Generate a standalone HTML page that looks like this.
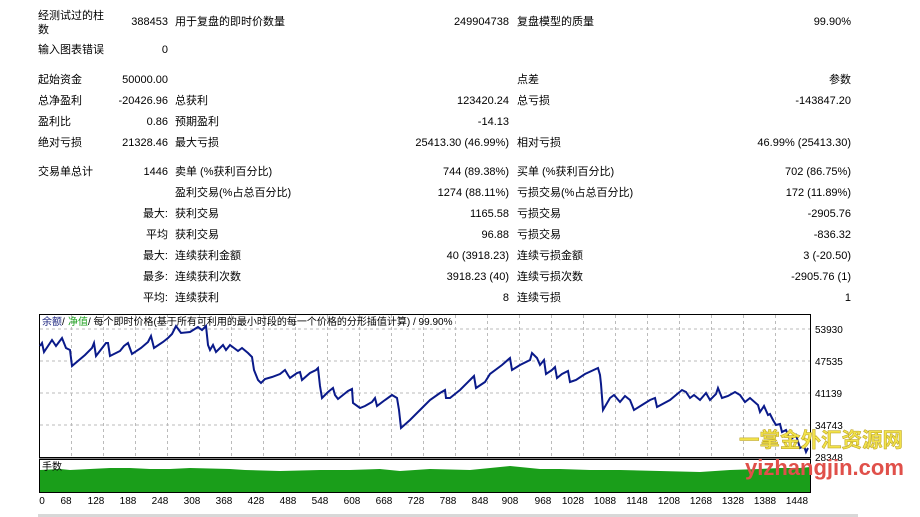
<!DOCTYPE html>
<html><head><meta charset="utf-8"><style>
body{margin:0;width:920px;height:517px;background:#fff;position:relative;overflow:hidden;font-family:"Liberation Sans","Noto Sans CJK SC",sans-serif;font-size:11px;color:#000}
.t{position:absolute;white-space:nowrap;line-height:13px}
.r{text-align:right}
</style></head><body>
<div class="t" style="left:38px;top:9px;line-height:14px">经测试过的柱<br>数</div>
<div class="t r" style="right:752px;top:16px">388453</div>
<div class="t" style="left:175px;top:16px">用于复盘的即时价数量</div>
<div class="t r" style="right:411px;top:16px">249904738</div>
<div class="t" style="left:517px;top:16px">复盘模型的质量</div>
<div class="t r" style="right:69px;top:16px">99.90%</div>

<div class="t" style="left:38px;top:44px">输入图表错误</div>
<div class="t r" style="right:752px;top:44px">0</div>

<div class="t" style="left:38px;top:74px">起始资金</div>
<div class="t r" style="right:752px;top:74px">50000.00</div>
<div class="t" style="left:517px;top:74px">点差</div>
<div class="t r" style="right:69px;top:74px">参数</div>

<div class="t" style="left:38px;top:95px">总净盈利</div>
<div class="t r" style="right:752px;top:95px">-20426.96</div>
<div class="t" style="left:175px;top:95px">总获利</div>
<div class="t r" style="right:411px;top:95px">123420.24</div>
<div class="t" style="left:517px;top:95px">总亏损</div>
<div class="t r" style="right:69px;top:95px">-143847.20</div>

<div class="t" style="left:38px;top:116px">盈利比</div>
<div class="t r" style="right:752px;top:116px">0.86</div>
<div class="t" style="left:175px;top:116px">预期盈利</div>
<div class="t r" style="right:411px;top:116px">-14.13</div>

<div class="t" style="left:38px;top:137px">绝对亏损</div>
<div class="t r" style="right:752px;top:137px">21328.46</div>
<div class="t" style="left:175px;top:137px">最大亏损</div>
<div class="t r" style="right:411px;top:137px">25413.30 (46.99%)</div>
<div class="t" style="left:517px;top:137px">相对亏损</div>
<div class="t r" style="right:69px;top:137px">46.99% (25413.30)</div>

<div class="t" style="left:38px;top:166px">交易单总计</div>
<div class="t r" style="right:752px;top:166px">1446</div>
<div class="t" style="left:175px;top:166px">卖单 (%获利百分比)</div>
<div class="t r" style="right:411px;top:166px">744 (89.38%)</div>
<div class="t" style="left:517px;top:166px">买单 (%获利百分比)</div>
<div class="t r" style="right:69px;top:166px">702 (86.75%)</div>

<div class="t" style="left:175px;top:187px">盈利交易(%占总百分比)</div>
<div class="t r" style="right:411px;top:187px">1274 (88.11%)</div>
<div class="t" style="left:517px;top:187px">亏损交易(%占总百分比)</div>
<div class="t r" style="right:69px;top:187px">172 (11.89%)</div>

<div class="t r" style="right:752px;top:208px">最大:</div>
<div class="t" style="left:175px;top:208px">获利交易</div>
<div class="t r" style="right:411px;top:208px">1165.58</div>
<div class="t" style="left:517px;top:208px">亏损交易</div>
<div class="t r" style="right:69px;top:208px">-2905.76</div>

<div class="t r" style="right:752px;top:229px">平均</div>
<div class="t" style="left:175px;top:229px">获利交易</div>
<div class="t r" style="right:411px;top:229px">96.88</div>
<div class="t" style="left:517px;top:229px">亏损交易</div>
<div class="t r" style="right:69px;top:229px">-836.32</div>

<div class="t r" style="right:752px;top:250px">最大:</div>
<div class="t" style="left:175px;top:250px">连续获利金额</div>
<div class="t r" style="right:411px;top:250px">40 (3918.23)</div>
<div class="t" style="left:517px;top:250px">连续亏损金额</div>
<div class="t r" style="right:69px;top:250px">3 (-20.50)</div>

<div class="t r" style="right:752px;top:271px">最多:</div>
<div class="t" style="left:175px;top:271px">连续获利次数</div>
<div class="t r" style="right:411px;top:271px">3918.23 (40)</div>
<div class="t" style="left:517px;top:271px">连续亏损次数</div>
<div class="t r" style="right:69px;top:271px">-2905.76 (1)</div>

<div class="t r" style="right:752px;top:292px">平均:</div>
<div class="t" style="left:175px;top:292px">连续获利</div>
<div class="t r" style="right:411px;top:292px">8</div>
<div class="t" style="left:517px;top:292px">连续亏损</div>
<div class="t r" style="right:69px;top:292px">1</div>

<svg style="position:absolute;left:0;top:0" width="920" height="517">
<g stroke="#bbb" stroke-dasharray="3,3" stroke-width="1">
<line x1="40" y1="329" x2="810" y2="329"/><line x1="40" y1="361" x2="810" y2="361"/><line x1="40" y1="393" x2="810" y2="393"/><line x1="40" y1="425" x2="810" y2="425"/>
<line x1="71.5" y1="315" x2="71.5" y2="456"/><line x1="103.5" y1="315" x2="103.5" y2="456"/><line x1="135.5" y1="315" x2="135.5" y2="456"/><line x1="167.5" y1="315" x2="167.5" y2="456"/><line x1="199.5" y1="315" x2="199.5" y2="456"/><line x1="231.5" y1="315" x2="231.5" y2="456"/><line x1="263.5" y1="315" x2="263.5" y2="456"/><line x1="295.5" y1="315" x2="295.5" y2="456"/><line x1="327.5" y1="315" x2="327.5" y2="456"/><line x1="359.5" y1="315" x2="359.5" y2="456"/><line x1="391.5" y1="315" x2="391.5" y2="456"/><line x1="423.5" y1="315" x2="423.5" y2="456"/><line x1="455.5" y1="315" x2="455.5" y2="456"/><line x1="487.5" y1="315" x2="487.5" y2="456"/><line x1="519.5" y1="315" x2="519.5" y2="456"/><line x1="551.5" y1="315" x2="551.5" y2="456"/><line x1="583.5" y1="315" x2="583.5" y2="456"/><line x1="615.5" y1="315" x2="615.5" y2="456"/><line x1="647.5" y1="315" x2="647.5" y2="456"/><line x1="679.5" y1="315" x2="679.5" y2="456"/><line x1="711.5" y1="315" x2="711.5" y2="456"/><line x1="743.5" y1="315" x2="743.5" y2="456"/><line x1="775.5" y1="315" x2="775.5" y2="456"/>
</g>
<polygon fill="#1a9e1a" points="40,470 60,469 70,470 90,469 110,468 130,468 150,469 170,469 190,468 230,469 245,470 280,471 320,470 350,470 380,469 400,471 430,469 470,470 510,466 540,469 560,469 590,470 620,470 660,471 700,472 730,470 760,469 780,468 800,468 810,467 810,492 40,492"/>
<rect x="39.5" y="314.5" width="771" height="143" fill="none" stroke="#000"/>
<rect x="39.5" y="459.5" width="771" height="33" fill="none" stroke="#000"/>
<line x1="39" y1="458" x2="811" y2="458" stroke="#000"/>
<polyline fill="none" stroke="#0a1a8a" stroke-width="2" points="40,346 42,343 44,352 52,340 56,346 62,338 66,348 70,350 72,366 85,355 92,348 94,343 96,356 106,343 108,343 110,356 120,351 124,346 128,343 132,354 141,348 148,342 151,336 154,348 163,342 168,338 172,334 176,326 181,333 190,332 198,327 202,330 206,326 208,345 210,350 213,345 216,352 223,345 226,350 230,345 238,351 242,348 248,353 252,357 254,370 258,380 261,383 265,379 272,377 280,374 285,370 288,375 290,378 297,373 300,372 302,380 310,373 316,370 318,368 320,386 322,398 328,392 333,388 335,395 338,399 348,391 352,389 353,403 360,408 365,406 372,402 375,398 377,406 385,400 392,395 397,398 399,410 401,428 410,420 420,410 430,400 440,393 445,390 446,398 450,398 460,390 470,380 474,376 476,388 485,382 490,374 502,365 510,358 512,370 520,365 530,360 532,353 537,358 540,365 544,360 546,374 552,370 555,367 557,378 562,374 568,371 570,382 576,380 585,374 598,368 600,375 601,384 603,410 610,398 614,395 620,402 625,396 630,400 634,410 642,405 650,400 655,398 657,407 670,400 682,390 686,392 690,398 694,395 700,400 706,393 710,400 716,394 718,388 722,398 728,396 735,392 740,395 745,402 750,398 758,405 760,412 764,406 768,415 770,414 773,420 776,425 780,424 782,432 786,430 790,440 796,435 800,448 804,446 806,452 808,448"/>
<g font-size="10" font-family="Liberation Sans,sans-serif">
<text x="42" y="325" fill="#1a237e">余额</text><text x="62" y="325">/</text><text x="68" y="325" fill="#1a9e1a">净值</text>
<text x="88" y="325" font-family="Liberation Sans,Noto Sans CJK SC,sans-serif">/ 每个即时价格(基于所有可利用的最小时段的每一个价格的分形插值计算) / 99.90%</text>
<text x="42" y="470" font-family="Noto Sans CJK SC,sans-serif">手数</text>
<text x="815" y="333">53930</text><text x="815" y="365">47535</text><text x="815" y="397">41139</text><text x="815" y="429">34743</text><text x="815" y="461">28348</text>
</g>
<g font-size="10" font-family="Liberation Sans,sans-serif" text-anchor="middle">
<text x="42" y="504">0</text><text x="66" y="504">68</text><text x="96" y="504">128</text><text x="128" y="504">188</text><text x="160" y="504">248</text><text x="192" y="504">308</text><text x="224" y="504">368</text><text x="256" y="504">428</text><text x="288" y="504">488</text><text x="320" y="504">548</text><text x="352" y="504">608</text><text x="384" y="504">668</text><text x="416" y="504">728</text><text x="448" y="504">788</text><text x="480" y="504">848</text><text x="510" y="504">908</text><text x="543" y="504">968</text><text x="573" y="504">1028</text><text x="605" y="504">1088</text><text x="637" y="504">1148</text><text x="669" y="504">1208</text><text x="701" y="504">1268</text><text x="733" y="504">1328</text><text x="765" y="504">1388</text><text x="797" y="504">1448</text>
</g>
<rect x="38" y="514" width="820" height="3" fill="#d8d8d8"/>
<text x="739" y="447" font-size="20.5" font-weight="bold" fill="#f2e24a" stroke="#b8a020" stroke-width="0.5" font-family="Noto Sans CJK SC,sans-serif">一掌金外汇资源网</text>
<text x="745" y="475" font-size="22" font-weight="bold" fill="#e0504a" font-family="Liberation Sans,sans-serif">yizhangjin.com</text>
</svg>
</body></html>
